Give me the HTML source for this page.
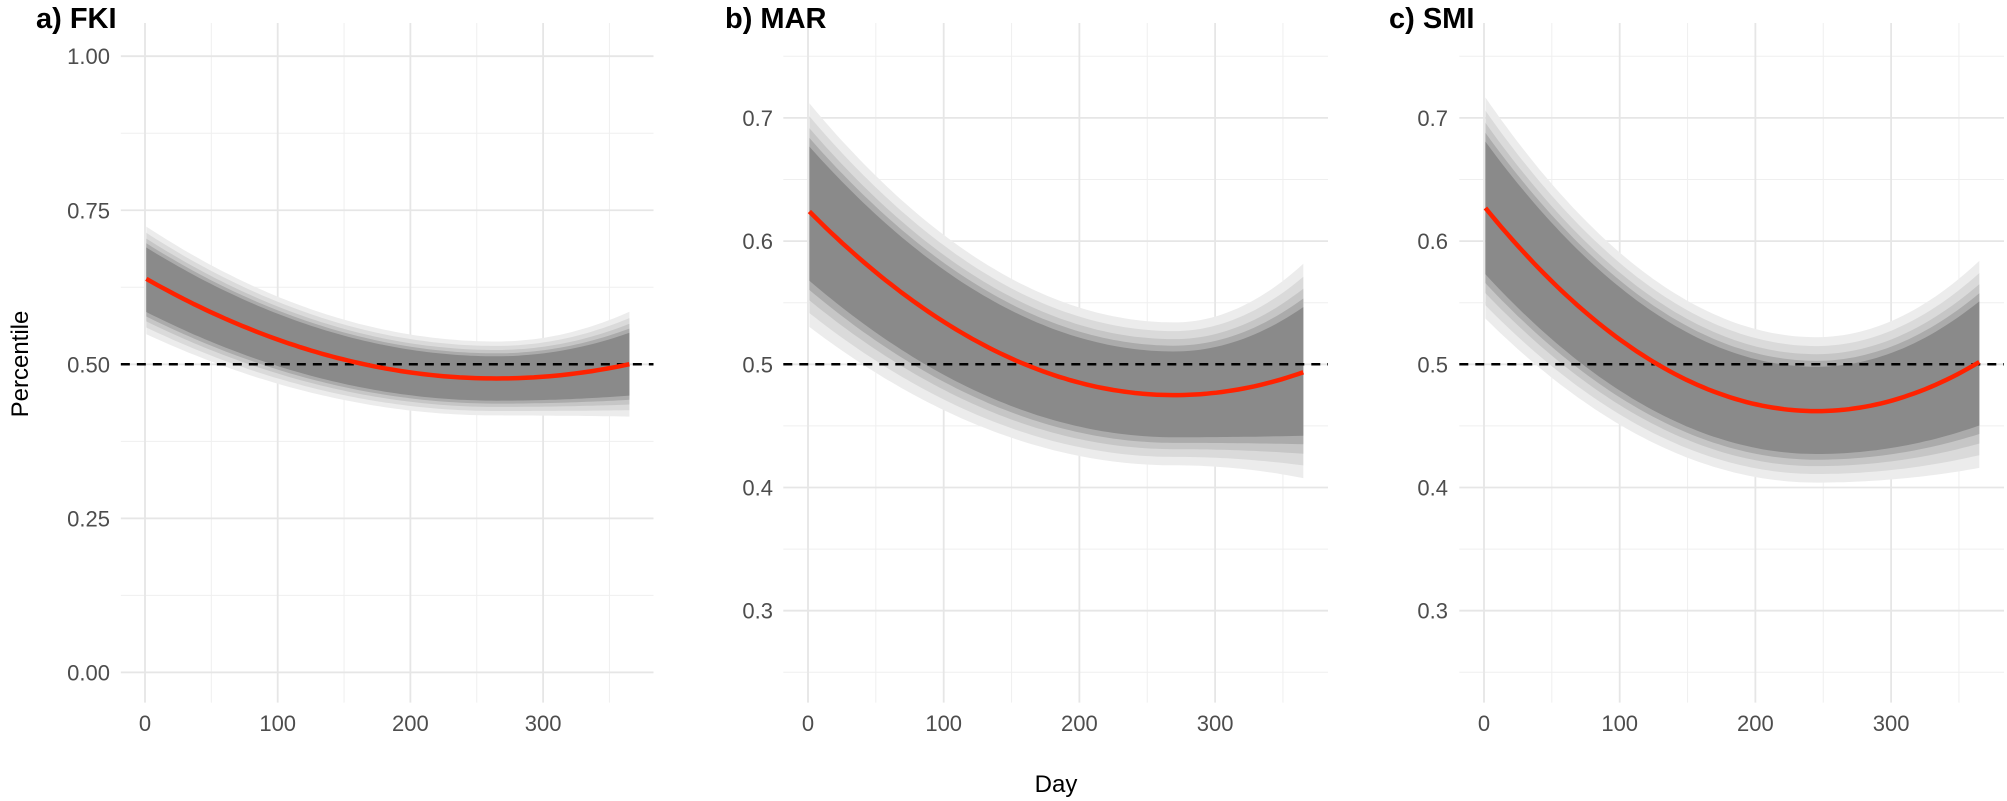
<!DOCTYPE html>
<html><head><meta charset="utf-8"><style>
html,body{margin:0;padding:0;background:#fff;}
svg{display:block;}
text{font-family:"Liberation Sans",sans-serif;}
</style></head><body>
<svg id="s" width="2007" height="801" xmlns="http://www.w3.org/2000/svg"></svg>
<script>
const svg=document.getElementById('s');
let out='';
const panels=[
 {x0:145,sx:1.327,title:'a) FKI',tx:36,v5y:364.3,sy:616.2,ymin:-0.049,ymax:1.054,
  majors:[0,0.25,0.5,0.75,1],labels:['0.00','0.25','0.50','0.75','1.00'],minors:[0.125,0.375,0.625,0.875],lab_x:110,
  a:2.32e-6,dm:265,vmin:0.477,U:[0.085,0.06,0.085],L:[0.09,0.06,0.085]},
 {x0:808,sx:1.357,title:'b) MAR',tx:725,v5y:364.3,sy:1232,ymin:0.225,ymax:0.777,
  majors:[0.3,0.4,0.5,0.6,0.7],labels:['0.3','0.4','0.5','0.6','0.7'],minors:[0.25,0.35,0.45,0.55,0.65,0.75],lab_x:773,
  a:2.06e-6,dm:270,vmin:0.475,U:[0.088,0.059,0.088],L:[0.094,0.057,0.086]},
 {x0:1484,sx:1.357,title:'c) SMI',tx:1389,v5y:364.3,sy:1232,ymin:0.225,ymax:0.777,
  majors:[0.3,0.4,0.5,0.6,0.7],labels:['0.3','0.4','0.5','0.6','0.7'],minors:[0.25,0.35,0.45,0.55,0.65,0.75],lab_x:1448,
  a:2.77e-6,dm:245,vmin:0.462,U:[0.09,0.06,0.082],L:[0.09,0.058,0.086]}
];
const cols=['#ececec','#dadada','#c6c6c6','#ababab','#8a8a8a'];
const fr=[1,0.88,0.77,0.68,0.6];
panels.forEach(p=>{
 const X=d=>p.x0+p.sx*d, Y=v=>p.v5y-(v-0.5)*p.sy;
 const L=X(-18.2),R=X(383.2),T=23,B=702.6;
 // minor grids
 p.minors.forEach(v=>{out+=`<line x1="${L}" x2="${R}" y1="${Y(v)}" y2="${Y(v)}" stroke="#efefef" stroke-width="1"/>`;});
 [50,150,250,350].forEach(d=>{out+=`<line x1="${X(d)}" x2="${X(d)}" y1="${T}" y2="${B}" stroke="#efefef" stroke-width="1"/>`;});
 p.majors.forEach((v,i)=>{out+=`<line x1="${L}" x2="${R}" y1="${Y(v)}" y2="${Y(v)}" stroke="#e6e6e6" stroke-width="1.8"/>`;
   out+=`<text x="${p.lab_x}" y="${Y(v)+8}" font-size="22" fill="#4d4d4d" text-anchor="end">${p.labels[i]}</text>`;});
 [0,100,200,300].forEach(d=>{out+=`<line x1="${X(d)}" x2="${X(d)}" y1="${T}" y2="${B}" stroke="#e6e6e6" stroke-width="1.8"/>`;
   out+=`<text x="${X(d)}" y="731" font-size="22" fill="#4d4d4d" text-anchor="middle">${d}</text>`;});
 const f=d=>p.vmin+p.a*(d-p.dm)*(d-p.dm);
 const w=(arr,d)=>{if(d<p.dm){const t=(p.dm-d)/p.dm;return arr[1]+(arr[0]-arr[1])*t*t;}const t=(d-p.dm)/(365-p.dm);return arr[1]+(arr[2]-arr[1])*t*t;};
 const ds=[];for(let d=1;d<=365;d+=4)ds.push(d);if(ds[ds.length-1]!==365)ds.push(365);
 fr.forEach((k,i)=>{
  let pts=ds.map(d=>`${X(d).toFixed(1)},${Y(f(d)+k*w(p.U,d)).toFixed(1)}`);
  let pts2=ds.slice().reverse().map(d=>`${X(d).toFixed(1)},${Y(f(d)-k*w(p.L,d)).toFixed(1)}`);
  out+=`<polygon points="${pts.concat(pts2).join(' ')}" fill="${cols[i]}"/>`;
 });
 out+=`<line x1="${L}" x2="${R}" y1="${Y(0.5)}" y2="${Y(0.5)}" stroke="#000" stroke-width="2.5" stroke-dasharray="9,7"/>`;
 out+=`<polyline points="${ds.map(d=>`${X(d).toFixed(1)},${Y(f(d)).toFixed(1)}`).join(' ')}" fill="none" stroke="#ff2200" stroke-width="4.5"/>`;
 out+=`<text x="${p.tx}" y="28" font-size="29" font-weight="bold" fill="#000">${p.title}</text>`;
});
out+=`<text x="1056" y="792" font-size="24" fill="#000" text-anchor="middle">Day</text>`;
out+=`<text transform="translate(28,364) rotate(-90)" font-size="24" fill="#000" text-anchor="middle">Percentile</text>`;
svg.innerHTML=out;
</script>
</body></html>
